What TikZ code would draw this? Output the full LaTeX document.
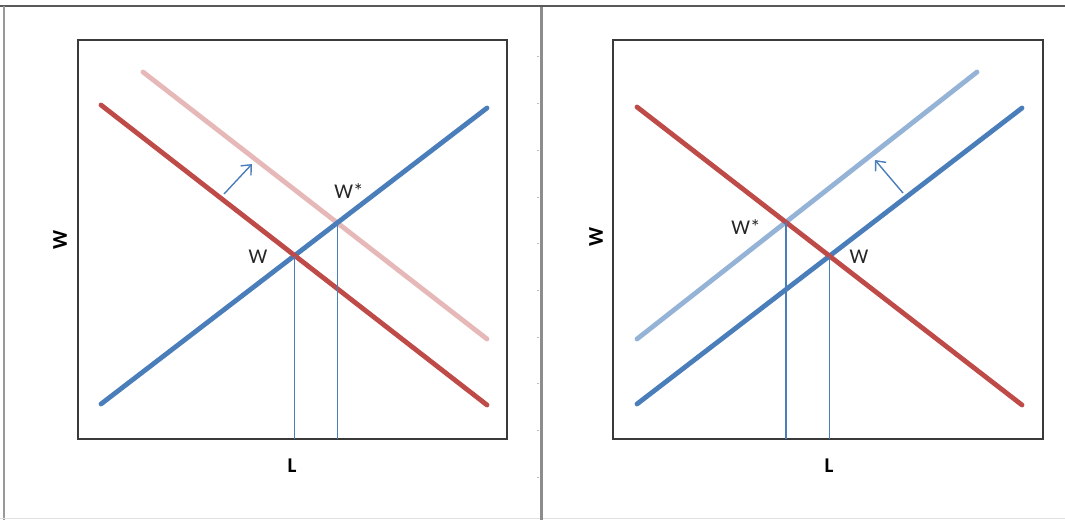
\documentclass[tikz,border=0pt]{standalone}
\usepackage{fontspec}
\setmainfont{Carlito}
\usetikzlibrary{arrows.meta}
\definecolor{sblue}{HTML}{4A7EBB}
\definecolor{dred}{HTML}{BE4B48}
\definecolor{lpink}{HTML}{E6B9B8}
\definecolor{lblue}{HTML}{95B3D7}
\definecolor{framec}{HTML}{3A3A3A}
\begin{document}
\begin{tikzpicture}[x=1pt,y=-1pt,
  curve/.style={line width=4.8pt, line cap=round},
  drop/.style={sblue, line width=1.5pt},
  shiftarrow/.style={sblue, line width=1.4pt, -{Straight Barb[length=8pt,width=14pt,line width=1.4pt]}},
  lab/.style={font=\fontsize{21}{21}\selectfont, text=black!85, inner sep=0pt},
  axlab/.style={font=\fontsize{21}{21}\selectfont\bfseries, text=black, inner sep=0pt},
  plotframe/.style={draw=framec, line width=2pt},
  tick/.style={draw=black!25, line width=0.8pt}]
\useasboundingbox (0,0) rectangle (1065,520);
\fill[white] (0,0) rectangle (1065,520);
% outer frame and divider
\draw[black!65, line width=2pt] (0,6) -- (1065,6);
\draw[black!40, line width=1.5pt] (4,6) -- (4,520);
\draw[black!12, line width=1.5pt] (0,518.5) -- (1065,518.5);
\draw[black!45, line width=3pt] (541,7) -- (541,520);
\foreach \yy in {56,103,150,197,243,290,337,383,430,477}
  \draw[tick] (536.5,\yy) -- (538.5,\yy);

% ---------- left panel ----------
\draw[plotframe] (78,40) rectangle (507,439);
\coordinate (LS1) at (101,404); \coordinate (LS2) at (487,108);
\coordinate (LD1) at (101,105); \coordinate (LD2) at (487,405);
\coordinate (LP1) at (143,72);  \coordinate (LP2) at (487,339);
\coordinate (LE) at (intersection of LS1--LS2 and LD1--LD2);
\coordinate (LEs) at (intersection of LS1--LS2 and LP1--LP2);
\draw[curve, lpink] (LP1) -- (LP2);
\draw[curve, sblue] (LS1) -- (LS2);
\draw[curve, dred] (LD1) -- (LD2);
\coordinate (LEb) at (LE |- 0,439);
\coordinate (LEsb) at (LEs |- 0,439);
\draw[drop] (LE) -- (LEb);
\draw[drop] (LEs) -- (LEsb);
\coordinate (LAt) at (224,194); \coordinate (LAh) at (252,164);
\draw[shiftarrow] (LAt) -- (LAh);
\node[lab] (lw) at (258,257) {W};
\node[lab] (lws) at (349,191) {W*};
\node[axlab] (ll) at (292,466) {L};
\node[axlab, rotate=90] (lax) at (60,240) {W};

% ---------- right panel ----------
\draw[plotframe] (613,40) rectangle (1043,439);
\coordinate (RS1) at (637,404); \coordinate (RS2) at (1022,108);
\coordinate (RD1) at (637,107); \coordinate (RD2) at (1022,405);
\coordinate (RP1) at (637,339); \coordinate (RP2) at (977,72);
\coordinate (RE) at (intersection of RS1--RS2 and RD1--RD2);
\coordinate (REs) at (intersection of RP1--RP2 and RD1--RD2);
\draw[curve, lblue] (RP1) -- (RP2);
\draw[curve, sblue] (RS1) -- (RS2);
\draw[curve, dred] (RD1) -- (RD2);
\coordinate (REb) at (RE |- 0,439);
\coordinate (REsb) at (REs |- 0,439);
\draw[drop] (RE) -- (REb);
\draw[drop] (REs) -- (REsb);
\coordinate (RAt) at (903,193); \coordinate (RAh) at (875,160);
\draw[shiftarrow] (RAt) -- (RAh);
\node[lab] (rws) at (746,227) {W*};
\node[lab] (rw) at (859,257) {W};
\node[axlab] (rl) at (829,466) {L};
\node[axlab, rotate=90] (rax) at (596,237) {W};
\end{tikzpicture}
\end{document}
